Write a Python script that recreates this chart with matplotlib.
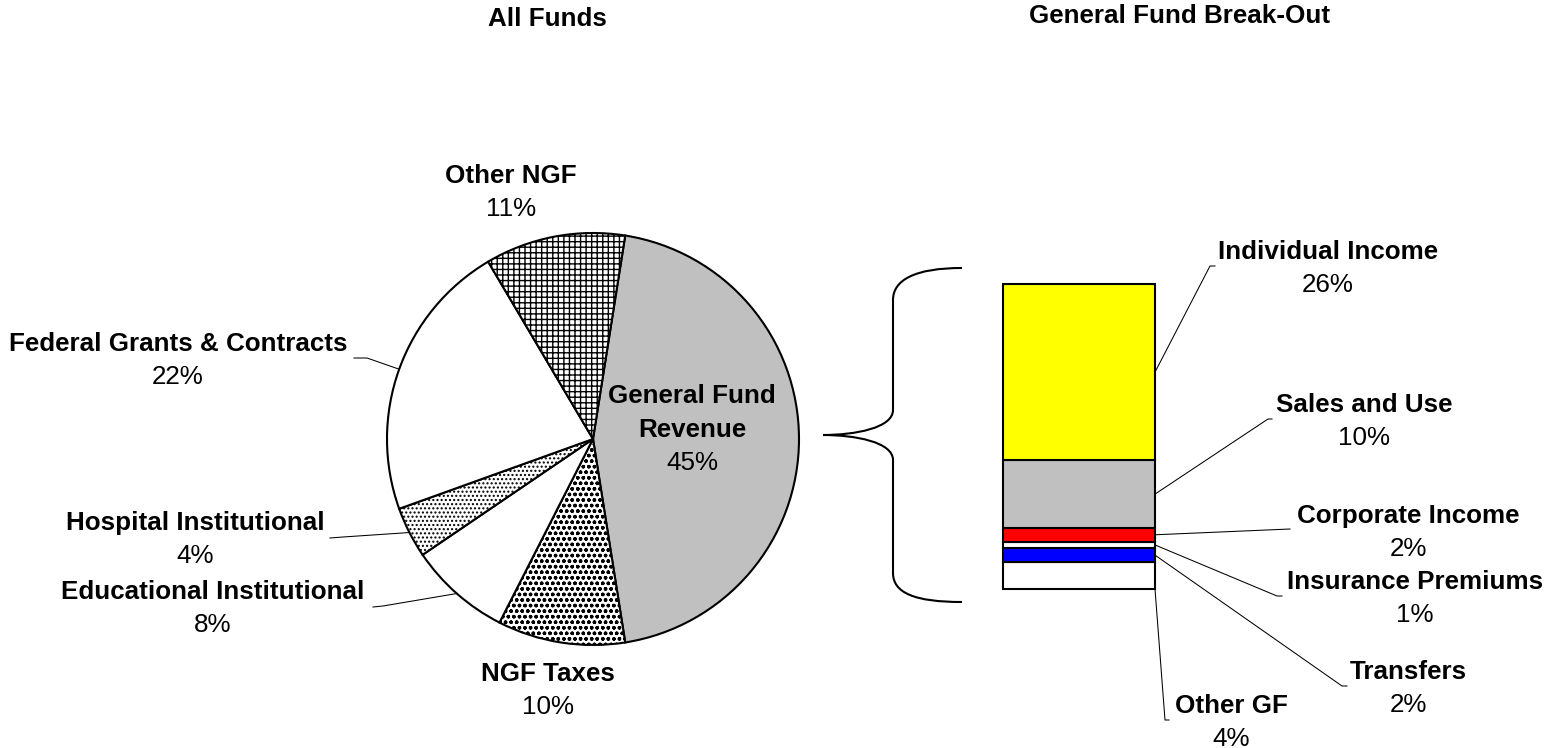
import matplotlib
matplotlib.use('Agg')
import numpy as np
import matplotlib.pyplot as plt
from matplotlib.path import Path
from matplotlib.patches import PathPatch

plt.rcParams['font.family'] = ['Liberation Sans', 'DejaVu Sans']
plt.rcParams['hatch.linewidth'] = 1.0

# All funds (pie), clockwise from the top
fund_names = ['General Fund Revenue', 'NGF Taxes', 'Educational Institutional',
              'Hospital Institutional', 'Federal Grants & Contracts', 'Other NGF']
fund_pcts = [45, 10, 8, 4, 22, 11]
fund_colors = ['#c0c0c0', 'white', 'white', 'white', 'white', 'white']
fund_hatches = [None, 'ooo', None, '....', None, '+++']

# General fund break-out (stacked bar), bottom to top
gf_names = ['Other GF', 'Transfers', 'Insurance Premiums', 'Corporate Income',
            'Sales and Use', 'Individual Income']
gf_pcts = [4, 2, 1, 2, 10, 26]
gf_colors = ['white', '#0000ff', 'white', '#ff0000', '#c0c0c0', '#ffff00']

W, H = 1545, 748
FS = 18.7

# label layout in pixels: (centre x, block middle y, leader points on label side)
pie_labels = {
    'Other NGF': (511, 190, None),
    'Federal Grants & Contracts': (178, 358, [(354, 358), (367, 358)]),
    'Hospital Institutional': (195, 537, [(330, 538), (343, 537)]),
    'Educational Institutional': (213, 606, [(373, 607), (383, 606)]),
    'NGF Taxes': (548, 688, None),
}
bar_labels = {
    'Individual Income': (1328, 266, [(1210, 266), (1215, 266)]),
    'Sales and Use': (1364, 419, [(1268, 419), (1272, 419)]),
    'Corporate Income': (1408, 530, [(1290, 529)]),
    'Insurance Premiums': (1415, 596, [(1277, 596), (1282, 596)]),
    'Transfers': (1408, 686, [(1342, 686), (1347, 686)]),
    'Other GF': (1231, 720, [(1165, 720), (1169, 720)]),
}

fig = plt.figure(figsize=(W / 100, H / 100), dpi=100)

# pie
cx, cy, r = 593, 439, 206
ax_pie = fig.add_axes([(cx - r) / W, (H - cy - r) / H, 2 * r / W, 2 * r / H])
wedges, _ = ax_pie.pie(fund_pcts, colors=fund_colors, startangle=81, counterclock=False,
                       wedgeprops=dict(edgecolor='black', linewidth=1.5))
for w, h in zip(wedges, fund_hatches):
    w.set_clip_on(False)
    if h:
        w.set_hatch(h)
ax_pie.set_xlim(-1, 1)
ax_pie.set_ylim(-1, 1)
ax_pie.axis('off')

# stacked bar
bx0, bx1, by_top, by_bot = 1003, 1155, 284, 589
ax_bar = fig.add_axes([bx0 / W, (H - by_bot) / H, (bx1 - bx0) / W, (by_bot - by_top) / H])
bottom = 0
bars = []
for v, c in zip(gf_pcts, gf_colors):
    b = ax_bar.bar(0, v, bottom=bottom, width=1, color=c, edgecolor='black', linewidth=1.5)
    b[0].set_clip_on(False)
    bars.append(b[0])
    bottom += v
ax_bar.set_xlim(-0.5, 0.5)
ax_bar.set_ylim(0, sum(gf_pcts))
ax_bar.axis('off')

# overlay in pixel coordinates for texts, leaders and the brace (on top)
over = fig.add_axes([0, 0, 1, 1])
over.set_xlim(0, W)
over.set_ylim(H, 0)
over.axis('off')
over.set_zorder(10)


def to_px(ax, x, y):
    return over.transData.inverted().transform(ax.transData.transform((x, y)))


def label(cxl, mid, name, pct):
    over.text(cxl, mid - 7, name, ha='center', va='baseline', fontsize=FS, fontweight='bold')
    over.text(cxl, mid + 26, '%d%%' % pct, ha='center', va='baseline', fontsize=FS)


# pie labels and leaders
for w, name, pct in zip(wedges, fund_names, fund_pcts):
    if name not in pie_labels:
        continue
    lx, mid, pts = pie_labels[name]
    label(lx, mid, name, pct)
    if pts:
        ang = np.deg2rad((w.theta1 + w.theta2) / 2)
        ax_, ay_ = to_px(ax_pie, np.cos(ang), np.sin(ang))
        xs = [p[0] for p in pts] + [ax_]
        ys = [p[1] for p in pts] + [ay_]
        over.plot(xs, ys, color='black', linewidth=0.75)

# text inside the general fund wedge
over.text(692, 403, 'General Fund', ha='center', va='baseline', fontsize=FS, fontweight='bold')
over.text(692, 437, 'Revenue', ha='center', va='baseline', fontsize=FS, fontweight='bold')
over.text(692, 470, '%d%%' % fund_pcts[0], ha='center', va='baseline', fontsize=FS)

# bar labels and leaders
for b, name, pct in zip(bars, gf_names, gf_pcts):
    lx, mid, pts = bar_labels[name]
    label(lx, mid, name, pct)
    if name == 'Other GF':
        axp = to_px(ax_bar, b.get_x() + b.get_width(), b.get_y())
    else:
        axp = to_px(ax_bar, b.get_x() + b.get_width(), b.get_y() + b.get_height() / 2)
    xs = [axp[0]] + [p[0] for p in pts]
    ys = [axp[1]] + [p[1] for p in pts]
    over.plot(xs, ys, color='black', linewidth=0.75)

# brace
verts = [(962, 268), (915, 268), (893, 280), (893, 300),
         (893, 410),
         (893, 428), (855, 435), (823, 435),
         (855, 435), (893, 442), (893, 460),
         (893, 573),
         (893, 593), (915, 602), (962, 602)]
codes = [Path.MOVETO, Path.CURVE4, Path.CURVE4, Path.CURVE4,
         Path.LINETO,
         Path.CURVE4, Path.CURVE4, Path.CURVE4,
         Path.CURVE4, Path.CURVE4, Path.CURVE4,
         Path.LINETO,
         Path.CURVE4, Path.CURVE4, Path.CURVE4]
over.add_patch(PathPatch(Path(verts, codes), facecolor='none', edgecolor='black', linewidth=1.5))

# titles
over.text(547, 26, 'All Funds', ha='center', va='baseline', fontsize=FS, fontweight='bold')
over.text(1180, 23, 'General Fund Break-Out', ha='center', va='baseline', fontsize=FS, fontweight='bold')

fig.savefig('out.png', dpi=100)
